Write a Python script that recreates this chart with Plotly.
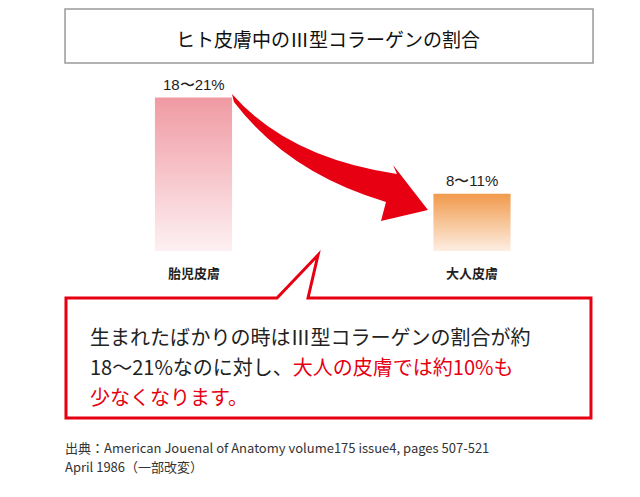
import plotly.graph_objects as go

W, H = 640, 497

categories = ["胎児皮膚", "大人皮膚"]
values = [21, 11]
value_labels = ["18〜21%", "8〜11%"]
top_colors = ["#f09aa3", "#f19a4c"]
bottom_colors = ["#fdf0f2", "#fdeee2"]

title = "ヒト皮膚中のⅢ型コラーゲンの割合"
note_lines = [
    "生まれたばかりの時はⅢ型コラーゲンの割合が約",
    "18〜21%なのに対し、<span style='color:#e60012'>大人の皮膚では約10%も</span>",
    "<span style='color:#e60012'>少なくなります。</span>",
]
source_lines = ["出典：American Jouenal of Anatomy volume175 issue4, pages 507-521",
                "April 1986（一部改変）"]

FONT = "Noto Sans CJK JP"


def u(x, y):
    # pixel -> paper coordinates as path string
    return "%.4f,%.4f" % (x / W, (H - y) / H)


def pp(x, y):
    return x / W, (H - y) / H


fig = go.Figure()

base = 5.06
half = 0.1385
for i, (cat, val) in enumerate(zip(categories, values)):
    fig.add_trace(go.Scatter(
        x=[i - half, i + half, i + half, i - half],
        y=[base, base, val, val],
        fill="toself", mode="none", hoverinfo="skip",
        fillgradient=dict(type="vertical",
                          colorscale=[[0, bottom_colors[i]], [1, top_colors[i]]]),
        showlegend=False,
    ))
    fig.add_annotation(x=i, y=val, text=value_labels[i], yshift=3, yanchor="bottom",
                       showarrow=False,
                       font=dict(size=15, color="#222", family="Liberation Sans"))
    fig.add_annotation(x=i, y=base, text=f"<b>{cat}</b>", yshift=-10, yanchor="top",
                       showarrow=False, font=dict(size=13, color="#222", family=FONT))

shapes = []
shapes.append(dict(type="path", xref="paper", yref="paper",
                   path=f"M {u(57,1)} L {u(585,1)} L {u(585,55)} L {u(57,55)} Z",
                   line=dict(color="#999", width=1.5), fillcolor="white"))
arrow = (f"M {u(224,86)} Q {u(280,150)} {u(389,166)} L {u(385,157)} L {u(420,202)} "
         f"L {u(373,213)} L {u(378,194)} Q {u(280,165)} {u(226,94)} Z")
shapes.append(dict(type="path", xref="paper", yref="paper", path=arrow,
                   fillcolor="#e60012", line=dict(width=0)))
callout = (f"M {u(58,290)} L {u(269,290)} L {u(310,247)} L {u(300,290)} L {u(583,290)} "
           f"L {u(583,410)} L {u(58,410)} Z")
shapes.append(dict(type="path", xref="paper", yref="paper", path=callout,
                   fillcolor="white", line=dict(color="#e60012", width=3)))

ann = []
tx, ty = pp(320, 15)
ann.append(dict(x=tx, y=ty, xref="paper", yref="paper", text=title, showarrow=False,
                yanchor="top", font=dict(size=19, color="#111", family=FONT)))
for k, line in enumerate(note_lines):
    lx, ly = pp(80, 312 + k * 30)
    ann.append(dict(x=lx, y=ly, xref="paper", yref="paper", text=line, showarrow=False,
                    xanchor="left", yanchor="top",
                    font=dict(size=20, color="#222", family=FONT)))
for k, line in enumerate(source_lines):
    sx, sy = pp(55, 428 + k * 19)
    ann.append(dict(x=sx, y=sy, xref="paper", yref="paper", text=line, showarrow=False,
                    xanchor="left", yanchor="top",
                    font=dict(size=13, color="#333", family=FONT)))

fig.update_layout(
    width=W, height=H, margin=dict(l=0, r=0, t=0, b=0),
    paper_bgcolor="white", plot_bgcolor="rgba(0,0,0,0)",
    shapes=shapes, annotations=list(fig.layout.annotations) + ann,
    xaxis=dict(range=[-185.5 / 278.5, (640 - 185.5) / 278.5], visible=False, fixedrange=True),
    yaxis=dict(range=[base, base + 254 / 10.06], domain=[(497 - 243) / 497, 1],
               visible=False, fixedrange=True),
)

fig.write_html("out.html")
